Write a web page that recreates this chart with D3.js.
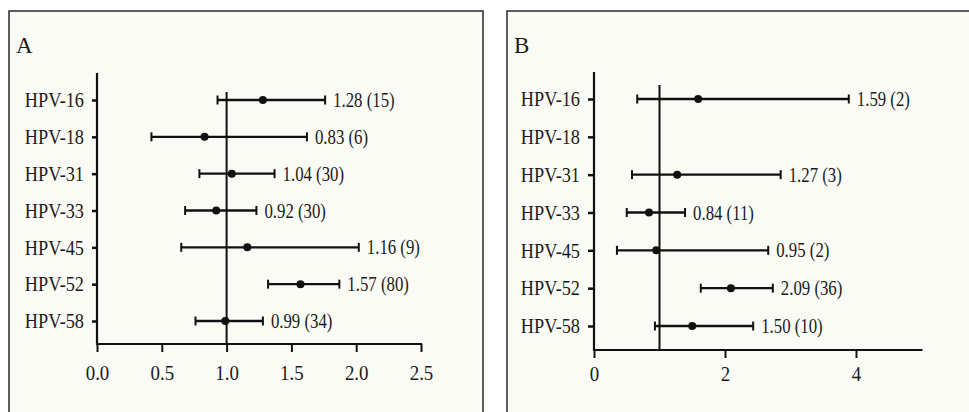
<!DOCTYPE html>
<html>
<head>
<meta charset="utf-8">
<script src="https://cdn.jsdelivr.net/npm/d3@7"></script>
<style>
  html, body { margin: 0; padding: 0; background: #ffffff; }
  svg { display: block; }
  text { font-family: "Liberation Serif", "Times New Roman", serif; fill: #1a1a1a; }
</style>
</head>
<body>
<svg id="chart" width="969" height="412"></svg>
<script>
// ---- data ----
const categories = ["HPV-16", "HPV-18", "HPV-31", "HPV-33", "HPV-45", "HPV-52", "HPV-58"];

const aEstimate = [1.28, 0.83, 1.04, 0.92, 1.16, 1.57, 0.99];
const aLower    = [0.93, 0.42, 0.79, 0.68, 0.65, 1.32, 0.76];
const aUpper    = [1.76, 1.62, 1.37, 1.23, 2.02, 1.87, 1.28];
const aCount    = [15, 6, 30, 30, 9, 80, 34];
const aTicks    = [0.0, 0.5, 1.0, 1.5, 2.0, 2.5];

const bEstimate = [1.59, null, 1.27, 0.84, 0.95, 2.09, 1.50];
const bLower    = [0.66, null, 0.58, 0.50, 0.35, 1.63, 0.93];
const bUpper    = [3.89, null, 2.85, 1.39, 2.66, 2.73, 2.43];
const bCount    = [2, null, 3, 11, 2, 36, 10];
const bTicks    = [0, 2, 4];

const svg = d3.select("#chart");
const ink = "#111";
const FONT = '"Liberation Serif", "Times New Roman", serif';

// horizontally condense text around its anchor point
function squeeze(sel, sx) {
  sel.each(function () {
    const t = d3.select(this);
    const x = +t.attr("x") || 0, y = +t.attr("y") || 0;
    t.attr("x", 0).attr("y", 0)
     .attr("transform", `translate(${x},${y}) scale(${sx},1)`);
  });
}

function panel(cfg) {
  const g = svg.append("g");
  g.append("rect")
    .attr("x", cfg.frame[0]).attr("y", cfg.frame[1])
    .attr("width", cfg.frame[2]).attr("height", cfg.frame[3])
    .attr("fill", "#fbfbf6").attr("stroke", "#2a2a2a").attr("stroke-width", 1.5);

  g.append("text").attr("x", cfg.frame[0] + 7).attr("y", 53)
    .attr("font-size", 23).style("font-family", FONT).text(cfg.letter);

  const x = d3.scaleLinear().domain(cfg.domain).range([cfg.x0, cfg.x1]);
  const y = d3.scalePoint().domain(categories).range([cfg.yTop, cfg.yBot]);

  // x axis
  const xAxis = d3.axisBottom(x).tickValues(cfg.ticks).tickFormat(cfg.fmt)
    .tickSize(8).tickSizeOuter(0).tickPadding(cfg.xPad);
  const gx = g.append("g").attr("transform", `translate(0,${cfg.axisY})`).call(xAxis);
  gx.select(".domain").attr("stroke", ink).attr("stroke-width", 2.2)
    .attr("d", `M${cfg.x0 - 1},0H${x(cfg.domain[1]) + 1}`);
  gx.selectAll(".tick line").attr("stroke", ink).attr("stroke-width", 2);
  gx.selectAll(".tick text").attr("font-size", 21).attr("fill", "#222")
    .style("font-family", FONT).call(squeeze, 0.9);

  // y axis
  const yAxis = d3.axisLeft(y).tickSize(cfg.yTick).tickSizeOuter(0).tickPadding(cfg.yPad);
  const gy = g.append("g").attr("transform", `translate(${cfg.x0},0)`).call(yAxis);
  gy.select(".domain").attr("stroke", ink).attr("stroke-width", 2.2)
    .attr("d", `M0,${cfg.axisTop}V${cfg.axisY + 1}`);
  gy.selectAll(".tick line").attr("stroke", ink).attr("stroke-width", 2.5);
  gy.selectAll(".tick text").attr("font-size", 21).attr("fill", "#1a1a1a")
    .style("font-family", FONT).call(squeeze, 0.87);

  // reference line at 1
  g.append("line")
    .attr("x1", x(1)).attr("x2", x(1))
    .attr("y1", cfg.refTop).attr("y2", cfg.axisY)
    .attr("stroke", ink).attr("stroke-width", 2);

  const rows = categories.map((c, i) => ({
    c, est: cfg.est[i], lo: cfg.lo[i], hi: cfg.hi[i], n: cfg.n[i]
  })).filter(d => d.est != null);

  const r = g.selectAll(".row").data(rows).enter().append("g");
  r.append("line")
    .attr("x1", d => x(d.lo)).attr("x2", d => x(d.hi))
    .attr("y1", d => y(d.c)).attr("y2", d => y(d.c))
    .attr("stroke", ink).attr("stroke-width", 2.4);
  ["lo", "hi"].forEach(k => {
    r.append("line")
      .attr("x1", d => x(d[k])).attr("x2", d => x(d[k]))
      .attr("y1", d => y(d.c) - 4.5).attr("y2", d => y(d.c) + 4.5)
      .attr("stroke", ink).attr("stroke-width", 2);
  });
  r.append("circle")
    .attr("cx", d => x(d.est)).attr("cy", d => y(d.c)).attr("r", 4)
    .attr("fill", ink);
  r.append("text")
    .attr("x", d => x(d.hi) + 8).attr("y", d => y(d.c) + 7)
    .attr("font-size", 21).style("font-family", FONT).attr("fill", "#262626")
    .text(d => `${d.est.toFixed(2)} (${d.n})`)
    .call(squeeze, 0.8);
}

panel({
  letter: "A",
  frame: [9, 11, 474, 420],
  domain: [0, 2.5], ticks: aTicks, fmt: d3.format(".1f"),
  x0: 97, x1: 421,
  yTop: 100, yBot: 321,
  axisY: 344, axisTop: 73, refTop: 92,
  yTick: 5, yPad: 8, xPad: 13,
  est: aEstimate, lo: aLower, hi: aUpper, n: aCount
});

panel({
  letter: "B",
  frame: [507, 11, 470, 420],
  domain: [0, 5], ticks: bTicks, fmt: d3.format("d"),
  x0: 594, x1: 921.5,
  yTop: 99, yBot: 326,
  axisY: 350, axisTop: 72, refTop: 85,
  yTick: 6, yPad: 8, xPad: 8,
  est: bEstimate, lo: bLower, hi: bUpper, n: bCount
});
</script>
</body>
</html>
